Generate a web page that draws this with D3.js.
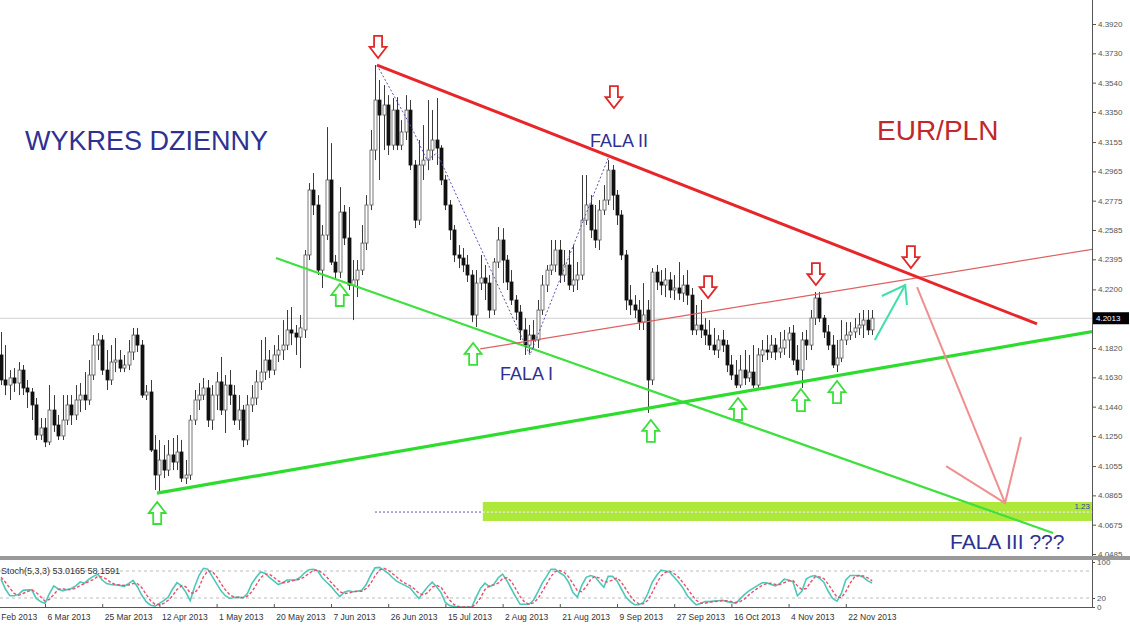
<!DOCTYPE html>
<html><head><meta charset="utf-8">
<script src="https://cdn.jsdelivr.net/npm/d3@7"></script>
<style>html,body{margin:0;padding:0;background:#fff;overflow:hidden}</style>
</head><body>
<svg id="c" width="1130" height="627"></svg>
<script>
// ---------- DATA (EUR/PLN daily, bar index 0..198) ----------
const opens=[4.1775,4.1613,4.1580,4.1626,4.1593,4.1677,4.1561,4.1535,4.1451,4.1256,
4.1302,4.1211,4.1418,4.1321,4.1250,4.1353,4.1451,4.1386,4.1483,4.1515,
4.1483,4.1645,4.1839,4.1872,4.1677,4.1613,4.1729,4.1742,4.1690,4.1710,
4.1794,4.1904,4.1839,4.1515,4.1535,4.1159,4.0997,4.1094,4.1029,4.1127,
4.1081,4.1146,4.0977,4.0997,4.1353,4.1483,4.1515,4.1561,4.1353,4.1515,
4.1600,4.1418,4.1580,4.1515,4.1353,4.1418,4.1224,4.1451,4.1496,4.1600,
4.1664,4.1742,4.1677,4.1775,4.1807,4.1839,4.1937,4.1917,4.1891,4.1937,
4.2423,4.2844,4.2747,4.2325,4.2552,4.2909,4.2377,4.2312,4.2701,4.2533,
4.2228,4.2261,4.2325,4.2500,4.2747,4.3103,4.3427,4.3330,4.3395,4.3135,
4.3362,4.3135,4.3220,4.3362,4.3006,4.2649,4.3006,4.3038,4.3103,4.3168,
4.3116,4.2909,4.2747,4.2585,4.2423,4.2403,4.2358,4.2293,4.2034,4.2241,
4.2274,4.2241,4.2066,4.2377,4.2520,4.2390,4.2248,4.2131,4.2053,4.1937,
4.1839,4.1904,4.1872,4.2066,4.2228,4.2325,4.2358,4.2455,4.2293,4.2358,
4.2228,4.2261,4.2293,4.2649,4.2747,4.2585,4.2520,4.2714,4.2779,4.2973,
4.2811,4.2682,4.2423,4.2131,4.2099,4.2066,4.1988,4.2066,4.1613,4.2312,
4.2248,4.2228,4.2261,4.2196,4.2209,4.2176,4.2228,4.2163,4.1937,4.1969,
4.1937,4.1904,4.1839,4.1807,4.1872,4.1839,4.1710,4.1645,4.1580,4.1677,
4.1626,4.1664,4.1580,4.1775,4.1807,4.1794,4.1839,4.1794,4.1820,4.1872,
4.1917,4.1742,4.1677,4.1872,4.1839,4.2014,4.2144,4.2014,4.1924,4.1839,
4.1710,4.1755,4.1872,4.1904,4.1924,4.1950,4.1969,4.2001,4.1937];
const highs=[4.1924,4.1839,4.1677,4.1690,4.1729,4.1710,4.1613,4.1561,4.1496,4.1366,
4.1366,4.1580,4.1515,4.1386,4.1515,4.1515,4.1515,4.1580,4.1593,4.1664,
4.1742,4.1904,4.1917,4.1904,4.1807,4.1839,4.1885,4.1807,4.1775,4.1872,
4.1950,4.1950,4.1872,4.1580,4.1613,4.1256,4.1224,4.1191,4.1224,4.1237,
4.1256,4.1224,4.1094,4.1386,4.1548,4.1593,4.1626,4.1613,4.1580,4.1664,
4.1762,4.1645,4.1677,4.1580,4.1515,4.1451,4.1515,4.1580,4.1677,4.1872,
4.1891,4.1807,4.1839,4.1904,4.2001,4.2066,4.2086,4.1969,4.2034,4.2455,
4.2889,4.2954,4.2811,4.2617,4.3252,4.3148,4.2423,4.2863,4.2747,4.2734,
4.2390,4.2390,4.2617,4.2811,4.3233,4.3654,4.3557,4.3524,4.3459,4.3440,
4.3446,4.3297,4.3459,4.3427,4.3038,4.3168,4.3265,4.3427,4.3362,4.3440,
4.3135,4.2941,4.2779,4.2617,4.2487,4.2468,4.2423,4.2325,4.2325,4.2423,
4.2358,4.2293,4.2403,4.2604,4.2597,4.2423,4.2325,4.2163,4.2099,4.2014,
4.1969,4.2001,4.2131,4.2293,4.2358,4.2520,4.2520,4.2520,4.2455,4.2455,
4.2487,4.2377,4.2941,4.2941,4.2811,4.2747,4.2779,4.2876,4.3038,4.3006,
4.2844,4.2714,4.2455,4.2228,4.2163,4.2131,4.2241,4.2131,4.2338,4.2358,
4.2325,4.2338,4.2312,4.2293,4.2377,4.2293,4.2325,4.2209,4.2099,4.2131,
4.2014,4.2001,4.1950,4.1904,4.1937,4.1872,4.1775,4.1742,4.1775,4.1807,
4.1775,4.1839,4.1820,4.1872,4.1904,4.1904,4.1885,4.1924,4.1937,4.1956,
4.1969,4.1839,4.1924,4.1937,4.2066,4.2183,4.2183,4.2034,4.1969,4.1904,
4.1872,4.2001,4.1988,4.1988,4.2014,4.2047,4.2066,4.2066,4.2066];
const lows=[4.1580,4.1515,4.1483,4.1535,4.1515,4.1515,4.1431,4.1353,4.1224,4.1224,
4.1178,4.1191,4.1276,4.1224,4.1224,4.1321,4.1321,4.1353,4.1405,4.1418,
4.1451,4.1613,4.1742,4.1645,4.1548,4.1580,4.1664,4.1664,4.1664,4.1677,
4.1742,4.1794,4.1496,4.1483,4.1146,4.0900,4.0874,4.0977,4.0990,4.1029,
4.1029,4.0952,4.0939,4.0965,4.1321,4.1418,4.1483,4.1308,4.1289,4.1418,
4.1386,4.1269,4.1451,4.1321,4.1289,4.1178,4.1191,4.1405,4.1451,4.1548,
4.1613,4.1626,4.1645,4.1729,4.1742,4.1807,4.1839,4.1775,4.1690,4.1885,
4.2390,4.2682,4.2293,4.2209,4.2520,4.2358,4.2261,4.2274,4.2487,4.2196,
4.2001,4.2150,4.2293,4.2455,4.2714,4.3038,4.2909,4.3103,4.3071,4.3103,
4.3103,4.3103,4.3168,4.2973,4.2597,4.2617,4.2909,4.2973,4.3038,4.3006,
4.2876,4.2714,4.2520,4.2377,4.2338,4.2312,4.2248,4.1988,4.1956,4.2196,
4.2131,4.2014,4.2034,4.2338,4.2241,4.2196,4.2099,4.2001,4.1872,4.1775,
4.1788,4.1807,4.1820,4.2034,4.2183,4.2293,4.2312,4.2241,4.2248,4.2196,
4.2183,4.2196,4.2261,4.2617,4.2533,4.2468,4.2455,4.2682,4.2747,4.2714,
4.2617,4.2390,4.2066,4.2034,4.2014,4.1937,4.1937,4.1399,4.1580,4.2196,
4.2163,4.2150,4.2144,4.2131,4.2131,4.2118,4.2099,4.1904,4.1904,4.1885,
4.1839,4.1807,4.1775,4.1755,4.1794,4.1664,4.1613,4.1561,4.1561,4.1580,
4.1600,4.1561,4.1561,4.1729,4.1742,4.1755,4.1742,4.1755,4.1775,4.1755,
4.1710,4.1645,4.1561,4.1742,4.1807,4.1969,4.1988,4.1885,4.1807,4.1690,
4.1664,4.1729,4.1839,4.1872,4.1885,4.1904,4.1885,4.1904,4.1904];
const closes=[4.1613,4.1580,4.1626,4.1593,4.1677,4.1561,4.1535,4.1451,4.1256,4.1302,
4.1211,4.1418,4.1321,4.1250,4.1353,4.1451,4.1386,4.1483,4.1515,4.1483,
4.1645,4.1839,4.1872,4.1677,4.1613,4.1729,4.1742,4.1690,4.1710,4.1794,
4.1904,4.1839,4.1515,4.1535,4.1159,4.0997,4.1094,4.1029,4.1127,4.1081,
4.1146,4.0977,4.0997,4.1353,4.1483,4.1515,4.1561,4.1353,4.1515,4.1600,
4.1418,4.1580,4.1515,4.1353,4.1418,4.1224,4.1451,4.1496,4.1600,4.1664,
4.1742,4.1677,4.1775,4.1807,4.1839,4.1937,4.1917,4.1891,4.1950,4.2423,
4.2844,4.2747,4.2325,4.2552,4.2909,4.2377,4.2312,4.2701,4.2533,4.2228,
4.2261,4.2325,4.2500,4.2747,4.3103,4.3427,4.3330,4.3395,4.3135,4.3362,
4.3135,4.3220,4.3362,4.3006,4.2649,4.3006,4.3038,4.3103,4.3168,4.3116,
4.2909,4.2747,4.2585,4.2423,4.2403,4.2358,4.2293,4.2034,4.2241,4.2274,
4.2241,4.2066,4.2377,4.2520,4.2390,4.2248,4.2131,4.2053,4.1937,4.1839,
4.1904,4.1872,4.2066,4.2228,4.2325,4.2358,4.2455,4.2293,4.2358,4.2228,
4.2261,4.2293,4.2649,4.2747,4.2585,4.2520,4.2714,4.2779,4.2973,4.2811,
4.2682,4.2423,4.2131,4.2099,4.2066,4.1988,4.2034,4.1613,4.2312,4.2248,
4.2228,4.2261,4.2196,4.2209,4.2176,4.2228,4.2163,4.1937,4.1969,4.1937,
4.1904,4.1839,4.1807,4.1872,4.1839,4.1710,4.1645,4.1580,4.1677,4.1626,
4.1664,4.1580,4.1775,4.1807,4.1794,4.1839,4.1794,4.1820,4.1872,4.1917,
4.1742,4.1677,4.1872,4.1839,4.2014,4.2144,4.2014,4.1924,4.1839,4.1710,
4.1755,4.1872,4.1904,4.1924,4.1950,4.1969,4.2001,4.1937,4.2013];

// Stochastic (5,3,3): %K main and %D signal
const stochK=[62,40,25,25,28,37,38,38,19,12,
8,30,47,40,36,39,41,47,56,53,
62,68,73,60,52,50,49,48,46,52,
59,45,26,12,4,2,8,14,22,40,
54,47,33,14,45,70,86,84,68,52,
36,25,19,21,22,20,30,52,66,78,
75,66,58,50,54,60,60,60,66,76,
83,84,80,65,55,46,34,23,33,36,
34,35,37,50,70,87,88,82,75,65,
57,52,47,42,30,19,33,45,55,45,
32,10,3,1,0,0,0,0,22,42,
53,45,50,65,73,58,40,22,6,6,
6,15,33,53,68,84,84,76,70,55,
32,22,48,66,70,67,55,44,68,68,
58,40,22,12,5,5,10,30,55,70,
82,80,77,66,55,42,25,14,5,8,
12,12,13,14,15,12,10,8,18,28,
36,42,48,54,54,50,47,52,62,60,
56,25,35,62,68,70,64,55,35,19,
13,30,60,70,70,70,66,58,53];
const stochD=[66,55,42,30,26,30,34,38,32,23,
13,17,28,39,41,38,39,42,48,52,
57,61,68,67,62,54,50,49,48,49,
52,52,43,28,14,6,5,8,15,25,
39,47,45,31,31,43,67,80,79,68,
52,38,27,22,21,21,24,34,49,65,
73,73,66,58,54,55,58,60,62,67,
75,81,82,76,67,55,45,34,30,31,
34,35,35,41,52,69,82,86,82,74,
66,58,52,47,40,30,27,32,44,48,
44,29,15,5,1,0,0,0,7,21,
39,47,49,53,63,65,57,40,23,11,
6,9,18,34,51,68,79,81,77,67,
52,36,34,45,61,68,64,55,56,60,
65,55,40,25,13,7,7,15,32,52,
69,77,80,74,66,54,41,27,15,9,
8,11,12,13,14,14,12,10,12,18,
27,35,42,48,52,53,50,50,54,58,
59,47,39,41,55,67,67,63,51,36,
22,21,34,53,67,70,69,65,58];

const priceTicks=[4.3920,4.3730,4.3540,4.3350,4.3155,4.2965,4.2775,4.2585,4.2395,4.2200,
4.1820,4.1630,4.1440,4.1250,4.1055,4.0865,4.0675,4.0485];
const lastPrice=4.2013;
const dateTickIdx=[-3,10,23,36,49,62,75,88,101,114,127,140,153,166,179,192];
const dateTickLabels=["Feb 2013","6 Mar 2013","25 Mar 2013","12 Apr 2013","1 May 2013","20 May 2013",
"7 Jun 2013","26 Jun 2013","15 Jul 2013","2 Aug 2013","21 Aug 2013","9 Sep 2013","27 Sep 2013",
"16 Oct 2013","4 Nov 2013","22 Nov 2013"];
const stochLevels=[80,20];
const stochTickVals=[100,20,0];

// Annotations in (bar index, price)
const redTrend=[[85.45,4.3654],[235.45,4.1976]];
const redThin=[[108.9,4.1814],[256.6,4.2500]];
const greenTrend=[[35.45,4.0880],[256.6,4.1969]];
const greenThin=[[62.5,4.2403],[239.1,4.0621]];
const waveZigzag=[[85.45,4.3654],[93.6,4.3233],[96.8,4.3038],[99.1,4.3084],[120.2,4.1775],[138.0,4.3051]];
const targetLevel=4.0757, targetStartIdx=85, bandStartIdx=109.5, bandTop=4.0822, bandBottom=4.0699;
const pinkArrow=[[208.2,4.2215],[228.2,4.0815]];
const pinkHead=[[214.8,4.1055],[228.2,4.0815],[231.8,4.1243]];
const tealArrow=[[198.6,4.1872],[205.5,4.2228]];
const tealHead=[[200.2,4.2157],[205.5,4.2228],[205.9,4.2099]];
const redMarks=[[85.7,4.3700],[139.3,4.3375],[160.7,4.2144],[185.2,4.2228],[206.8,4.2338]];
const greenMarks=[[35.5,4.0822],[77.0,4.2235],[107.3,4.1853],[147.7,4.1354],[167.5,4.1496],[181.8,4.1554],[190.0,4.1606]];

// ---------- DRAW ----------
const svg=d3.select("#c");
const axisX=1092, mainBottom=556;
const x=d3.scaleLinear().domain([0,198]).range([1,872.2]);
const y=d3.scaleLinear().domain([4.0485,4.3920]).range([554,24]);
const ys=d3.scaleLinear().domain([0,100]).range([607,562]);
const font="'Liberation Sans', Arial, sans-serif";

svg.append("rect").attr("width",1130).attr("height",627).attr("fill","#fff");
const defs=svg.append("defs");
defs.append("clipPath").attr("id","mainClip").append("rect").attr("x",0).attr("y",0).attr("width",axisX).attr("height",mainBottom);
defs.append("clipPath").attr("id","subClip").append("rect").attr("x",0).attr("y",561).attr("width",axisX).attr("height",47);

const main=svg.append("g").attr("clip-path","url(#mainClip)");

// last price line
main.append("line").attr("x1",0).attr("x2",axisX).attr("y1",y(lastPrice)).attr("y2",y(lastPrice))
  .attr("stroke","#d0d0d0").attr("stroke-width",1.2);

// target band
main.append("rect").attr("x",x(bandStartIdx)).attr("y",y(bandTop)).attr("width",axisX-x(bandStartIdx))
  .attr("height",y(bandBottom)-y(bandTop)).attr("fill","#ade83a");
main.append("line").attr("x1",x(targetStartIdx)).attr("x2",x(bandStartIdx)).attr("y1",y(targetLevel)).attr("y2",y(targetLevel))
  .attr("stroke","#5a5ab8").attr("stroke-dasharray","2,2").attr("stroke-width",1);
main.append("line").attr("x1",x(bandStartIdx)).attr("x2",axisX).attr("y1",y(targetLevel)).attr("y2",y(targetLevel))
  .attr("stroke","#eeeeee").attr("stroke-dasharray","2,2").attr("stroke-width",1.2);
main.append("text").attr("x",axisX-2).attr("y",y(targetLevel)-3).attr("text-anchor","end")
  .attr("font-family",font).attr("font-size",8).attr("fill","#3a3aa8").text("1.23");

// candles
const idx=d3.range(closes.length);
const cg=main.append("g");
cg.selectAll("line.w").data(idx).join("line").attr("class","w")
  .attr("x1",i=>Math.round(x(i))+0.5).attr("x2",i=>Math.round(x(i))+0.5)
  .attr("y1",i=>y(highs[i])).attr("y2",i=>y(lows[i]))
  .attr("stroke","#3a3a3a").attr("stroke-width",1);
cg.selectAll("rect.b").data(idx).join("rect").attr("class","b")
  .attr("x",i=>Math.round(x(i))-1).attr("width",3)
  .attr("y",i=>y(Math.max(opens[i],closes[i])))
  .attr("height",i=>Math.max(1,Math.abs(y(opens[i])-y(closes[i]))))
  .attr("fill",i=>closes[i]>=opens[i]?"#ffffff":"#111")
  .attr("stroke",i=>closes[i]>=opens[i]?"#555":"#111").attr("stroke-width",0.8);

// trend lines
const ln=d3.line().x(d=>x(d[0])).y(d=>y(d[1]));
main.append("path").attr("d",ln(greenThin)).attr("fill","none").attr("stroke","#3ee03e").attr("stroke-width",2.2);
main.append("path").attr("d",ln(greenTrend)).attr("fill","none").attr("stroke","#2edc2e").attr("stroke-width",3.2);
main.append("path").attr("d",ln(redThin)).attr("fill","none").attr("stroke","#e06060").attr("stroke-width",1.2);
main.append("path").attr("d",ln(redTrend)).attr("fill","none").attr("stroke","#e8262a").attr("stroke-width",3);
main.append("path").attr("d",ln(waveZigzag)).attr("fill","none").attr("stroke","#5555b0").attr("stroke-width",1).attr("stroke-dasharray","2,2");

// forecast arrows
main.append("path").attr("d",ln(pinkArrow)).attr("fill","none").attr("stroke","#ef8f8f").attr("stroke-width",2);
main.append("path").attr("d",ln(pinkHead)).attr("fill","none").attr("stroke","#ef8f8f").attr("stroke-width",2);
main.append("path").attr("d",ln(tealArrow)).attr("fill","none").attr("stroke","#3fe0a8").attr("stroke-width",2);
main.append("path").attr("d",ln(tealHead)).attr("fill","none").attr("stroke","#3fe0a8").attr("stroke-width",2);

// hollow arrow markers
function arrowPath(tx,ty,dir){ // dir=1 down (tip at bottom), -1 up
  const s=dir;
  const pts=[[tx-4,ty-22*s],[tx+4,ty-22*s],[tx+4,ty-11*s],[tx+8.5,ty-11*s],[tx,ty],[tx-8.5,ty-11*s],[tx-4,ty-11*s]];
  return "M"+pts.map(p=>p.join(",")).join("L")+"Z";
}
main.selectAll("path.rm").data(redMarks).join("path").attr("class","rm")
  .attr("d",d=>arrowPath(x(d[0]),y(d[1]),1)).attr("fill","#fff").attr("stroke","#e02828").attr("stroke-width",1.8);
main.selectAll("path.gm").data(greenMarks).join("path").attr("class","gm")
  .attr("d",d=>arrowPath(x(d[0]),y(d[1]),-1)).attr("fill","#fff").attr("stroke","#3adf3a").attr("stroke-width",1.8);

// texts
const navy="#2e3192";
svg.append("text").attr("x",25).attr("y",150).attr("font-family",font).attr("font-size",27).attr("fill",navy).text("WYKRES DZIENNY");
svg.append("text").attr("x",877).attr("y",140).attr("font-family",font).attr("font-size",28).attr("fill","#c1272d").text("EUR/PLN");
svg.append("text").attr("x",590).attr("y",147).attr("font-family",font).attr("font-size",18).attr("fill",navy).text("FALA II");
svg.append("text").attr("x",500).attr("y",380).attr("font-family",font).attr("font-size",18).attr("fill",navy).text("FALA I");
svg.append("text").attr("x",950).attr("y",549).attr("font-family",font).attr("font-size",21).attr("fill",navy).text("FALA III ???");

// right price axis
svg.append("line").attr("x1",axisX+0.5).attr("x2",axisX+0.5).attr("y1",0).attr("y2",608).attr("stroke","#555").attr("stroke-width",1);
const ax=svg.append("g").attr("transform",`translate(${axisX},0)`)
  .call(d3.axisRight(y).tickValues(priceTicks).tickFormat(d3.format(".4f")).tickSize(4).tickPadding(2));
ax.select(".domain").remove();
ax.selectAll("text").attr("font-family",font).attr("font-size",8).attr("fill","#555");
ax.selectAll("line").attr("stroke","#555");
svg.append("rect").attr("x",axisX+1).attr("y",y(lastPrice)-6).attr("width",36).attr("height",12).attr("fill","#000");
svg.append("text").attr("x",axisX+4).attr("y",y(lastPrice)+3).attr("font-family",font).attr("font-size",8).attr("fill","#fff").text(d3.format(".4f")(lastPrice));

// panel separator
svg.append("rect").attr("x",0).attr("y",556).attr("width",1130).attr("height",4).attr("fill","#9a9a9a");

// stochastic sub-window
const sub=svg.append("g").attr("clip-path","url(#subClip)");
sub.selectAll("line.lv").data(stochLevels).join("line").attr("class","lv")
  .attr("x1",0).attr("x2",axisX).attr("y1",d=>ys(d)).attr("y2",d=>ys(d))
  .attr("stroke","#bdbdbd").attr("stroke-dasharray","3,3").attr("stroke-width",1);
const sl=d3.line().x((d,i)=>x(i)).y(d=>ys(d));
sub.append("path").attr("d",sl(stochK)).attr("fill","none").attr("stroke","#4cc8ba").attr("stroke-width",1.6);
sub.append("path").attr("d",sl(stochD)).attr("fill","none").attr("stroke","#e8506a").attr("stroke-width",1.4).attr("stroke-dasharray","3,2");
svg.append("text").attr("x",1).attr("y",574).attr("font-family",font).attr("font-size",9).attr("fill","#333")
  .text("Stoch(5,3,3) 53.0165 58.1591");
const sax=svg.append("g").attr("transform",`translate(${axisX},0)`)
  .call(d3.axisRight(ys).tickValues(stochTickVals).tickSize(3).tickPadding(2));
sax.select(".domain").remove();
sax.selectAll("text").attr("font-family",font).attr("font-size",8).attr("fill","#555");
sax.selectAll("line").attr("stroke","#555");

// bottom date axis
svg.append("line").attr("x1",0).attr("x2",axisX).attr("y1",607.5).attr("y2",607.5).attr("stroke","#555");
const bx=svg.append("g").attr("transform","translate(0,608)")
  .call(d3.axisBottom(x).tickValues(dateTickIdx).tickFormat((d,i)=>dateTickLabels[i]).tickSize(-4).tickPadding(6));
bx.select(".domain").remove();
bx.selectAll("line").attr("stroke","#555");
bx.selectAll("text").attr("text-anchor","start").attr("dx",(d,i)=>i===0?13:2).attr("font-family",font).attr("font-size",8.5).attr("fill","#333");
</script>
</body></html>
